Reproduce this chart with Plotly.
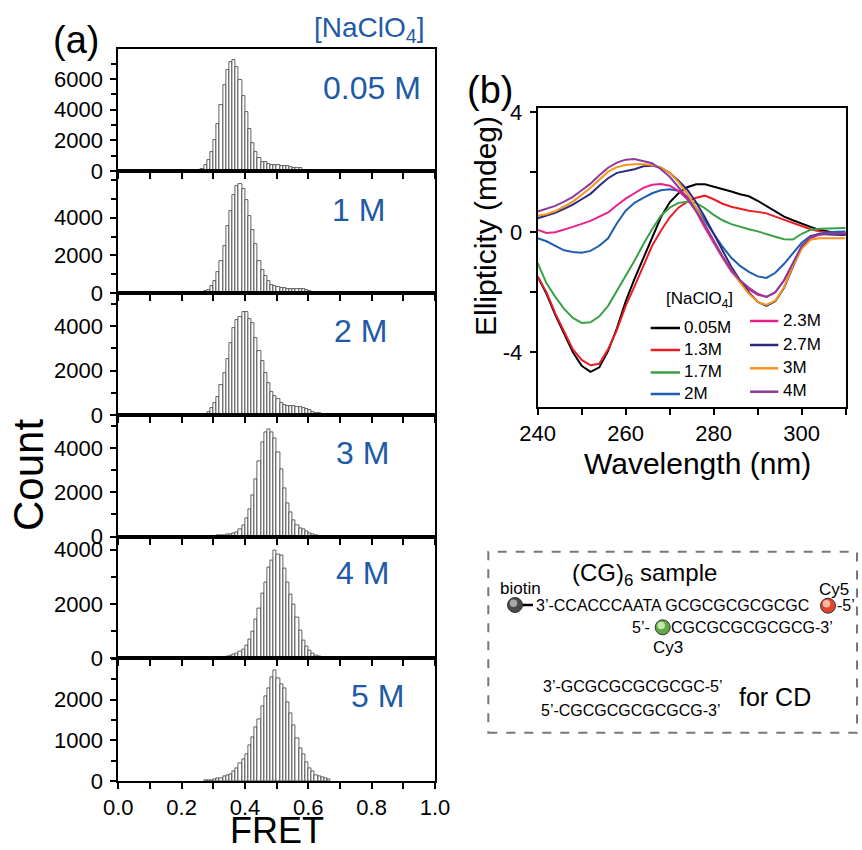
import plotly.graph_objects as go

W, H = 862, 850
FONT = "Liberation Sans, Arial, sans-serif"
BLUE = "#1f5aa6"

# ---------------- data: FRET histograms (bin width 0.01) ----------------
bin_width = 0.01
fret_first_bin = [0.26, 0.27, 0.27, 0.30, 0.32, 0.27]
fret_counts = [
    [130, 400, 720, 1220, 2020, 3070, 4300, 5610, 6590, 7130, 7220, 6800, 5930, 4910, 3830, 2720,
     1850, 1260, 830, 610, 570, 460, 390, 370, 370, 330, 300, 300, 260, 220, 200, 170, 90],
    [90, 180, 350, 620, 1100, 1680, 2480, 3540, 4340, 5220, 5660, 5790, 5520, 4920, 4070, 3360,
     2600, 1720, 1240, 880, 620, 440, 350, 300, 280, 250, 230, 230, 230, 210, 210, 190, 160, 110, 70, 50],
    [60, 130, 310, 540, 810, 1360, 1880, 2510, 3220, 3930, 4270, 4420, 4610, 4610, 4300, 4120,
     3450, 2880, 2430, 1910, 1460, 1060, 870, 720, 570, 460, 420, 400, 400, 390, 360, 330, 280,
     220, 160, 120, 90, 60],
    [30, 45, 60, 75, 90, 105, 135, 180, 315, 500, 800, 1250, 1880, 2570, 3380, 4260, 4710, 4860,
     4710, 4440, 3800, 3020, 2180, 1520, 1100, 750, 500, 390, 315, 225, 165, 105, 60],
    [25, 40, 60, 100, 150, 185, 260, 330, 490, 700, 980, 1440, 1850, 2390, 2800, 3350, 3620, 3960,
     3840, 3780, 3310, 2790, 2370, 1980, 1510, 1040, 650, 430, 270, 185, 120, 75, 40, 15],
    [10, 15, 25, 40, 57, 74, 107, 148, 172, 230, 311, 434, 541, 656, 869, 1074, 1311, 1516, 1828,
     2074, 2279, 2541, 2730, 2525, 2377, 2279, 1926, 1664, 1361, 1049, 803, 656, 459, 311, 230,
     148, 123, 82, 57, 41],
]
panel_labels = ["0.05 M", "1 M", "2 M", "3 M", "4 M", "5 M"]
count_max = [7950, 6480, 5480, 5470, 4490, 3017]
count_ticks = [[0, 2000, 4000, 6000], [0, 2000, 4000], [0, 2000, 4000], [0, 2000, 4000],
               [0, 2000, 4000], [0, 1000, 2000]]
count_minor = [1000, 1000, 1000, 1000, 1000, 500]
fret_ticks = [0.0, 0.2, 0.4, 0.6, 0.8, 1.0]

# ---------------- data: CD spectra ----------------
wavelength = [240, 242, 244, 246, 248, 250, 252, 254, 256, 258, 260, 262, 264, 266, 268, 270, 272, 274,
              276, 278, 280, 282, 284, 286, 288, 290, 292, 294, 296, 298, 300, 302, 304, 306, 308, 310]
cd_names = ["0.05M", "1.3M", "1.7M", "2M", "2.3M", "2.7M", "3M", "4M"]
cd_colors = ["#000000", "#ec1c24", "#3aa046", "#1d5fae", "#e8208c", "#2b2a7e", "#f7941d", "#8e3b9c"]
cd_black = [-1.48, -2.05, -2.75, -3.4, -4.0, -4.45, -4.65, -4.5, -3.95, -3.2, -2.3, -1.55, -0.85, -0.15,
            0.5, 1.0, 1.3, 1.5, 1.6, 1.6, 1.52, 1.46, 1.36, 1.27, 1.2, 1.05, 0.88, 0.7, 0.52, 0.4, 0.28,
            0.18, 0.08, 0.02, -0.02, -0.05]
cd_red = [-1.48, -2.0, -2.7, -3.3, -3.9, -4.25, -4.43, -4.38, -3.9, -3.25, -2.45, -1.8, -1.1, -0.45,
          0.05, 0.5, 0.82, 1.02, 1.15, 1.22, 1.1, 0.95, 0.85, 0.78, 0.72, 0.68, 0.63, 0.52, 0.42, 0.3,
          0.2, 0.1, 0.03, -0.03, -0.07, -0.09]
cd_green = [-1.03, -1.7, -2.15, -2.55, -2.85, -3.02, -3.0, -2.8, -2.45, -1.95, -1.45, -0.95, -0.4, 0.1,
            0.55, 0.82, 0.98, 1.02, 0.98, 0.8, 0.58, 0.4, 0.27, 0.18, 0.1, 0.03, -0.07, -0.15, -0.23,
            -0.24, -0.05, 0.08, 0.12, 0.13, 0.13, 0.14]
cd_blue = [-0.2, -0.3, -0.45, -0.6, -0.66, -0.68, -0.62, -0.45, -0.2, 0.3, 0.72, 0.98, 1.15, 1.3, 1.4,
           1.43, 1.38, 1.18, 0.82, 0.4, -0.05, -0.48, -0.85, -1.12, -1.32, -1.47, -1.52, -1.35, -1.05,
           -0.7, -0.35, -0.12, -0.05, 0.0, 0.02, 0.03]
cd_pink = [0.08, -0.02, 0.0, 0.08, 0.18, 0.28, 0.38, 0.52, 0.66, 0.9, 1.12, 1.3, 1.48, 1.58, 1.61, 1.55,
           1.38, 1.1, 0.7, 0.15, -0.35, -0.85, -1.3, -1.65, -1.9, -2.08, -2.15, -2.0, -1.6, -1.05,
           -0.5, -0.2, -0.08, -0.05, -0.05, -0.05]
cd_navy = [0.47, 0.55, 0.65, 0.78, 0.92, 1.1, 1.28, 1.55, 1.8, 1.98, 2.05, 2.1, 2.2, 2.22, 2.15, 1.98,
           1.72, 1.42, 1.0, 0.5, -0.05, -0.6, -1.15, -1.6, -2.0, -2.32, -2.45, -2.3, -1.85, -1.15,
           -0.5, -0.15, -0.05, -0.07, -0.08, -0.09]
cd_orange = [0.55, 0.6, 0.7, 0.85, 1.02, 1.25, 1.48, 1.75, 2.02, 2.17, 2.24, 2.27, 2.27, 2.24, 2.15,
             1.98, 1.67, 1.28, 0.82, 0.25, -0.3, -0.8, -1.25, -1.68, -2.05, -2.32, -2.42, -2.28, -1.82,
             -1.12, -0.55, -0.25, -0.2, -0.2, -0.2, -0.2]
cd_purple = [0.69, 0.78, 0.88, 1.02, 1.18, 1.4, 1.62, 1.9, 2.15, 2.32, 2.42, 2.44, 2.38, 2.3, 2.1, 1.85,
             1.5, 1.15, 0.7, 0.25, -0.28, -0.8, -1.25, -1.6, -1.85, -2.05, -2.15, -2.0, -1.6, -1.05,
             -0.45, -0.15, -0.07, -0.05, -0.04, -0.04]
cd_values = [cd_black, cd_red, cd_green, cd_blue, cd_pink, cd_navy, cd_orange, cd_purple]
cd_xticks = [240, 260, 280, 300]
cd_yticks = [-4, 0, 4]
cd_yticktext = ["-4", "0", "4"]


def px(x):
    return x / W


def py(y):
    return 1 - y / H


fig = go.Figure()

# ---------------- panel (a) ----------------
a_left, a_right = 118.3, 435.0
a_edges = [49, 171, 293, 415.3, 536.5, 658.3, 781]

axis_common = dict(showline=True, linecolor="black", linewidth=2, mirror=True,
                   showgrid=False, zeroline=False, ticks="outside", tickcolor="black",
                   tickwidth=1.5, ticklen=6, automargin=False,
                   tickfont=dict(family=FONT, size=22, color="black"))

for i in range(6):
    n = i + 1
    centers = [fret_first_bin[i] + bin_width * (k + 0.5) for k in range(len(fret_counts[i]))]
    fig.add_trace(go.Bar(
        x=centers, y=fret_counts[i], width=bin_width,
        marker=dict(color="white", line=dict(color="#3a3a3a", width=0.8)),
        xaxis=f"x{n}", yaxis=f"y{n}", showlegend=False, hoverinfo="x+y"))
    xa = dict(axis_common, domain=[px(a_left), px(a_right)], range=[0, 1], anchor=f"y{n}",
              tickvals=fret_ticks, showticklabels=(i == 5), tickformat=".1f",
              minor=dict(dtick=0.1, tick0=0, ticks="outside", ticklen=6, tickwidth=1.5, tickcolor="black"))
    ya = dict(axis_common, domain=[py(a_edges[i + 1]), py(a_edges[i])], range=[0, count_max[i]],
              anchor=f"x{n}", tickvals=count_ticks[i], ticklabelstandoff=3,
              minor=dict(dtick=count_minor[i], tick0=0, ticks="outside", ticklen=5, tickwidth=1.5,
                         tickcolor="black"))
    fig.layout[f"xaxis{n}"] = xa
    fig.layout[f"yaxis{n}"] = ya

# ---------------- panel (b) ----------------
for name, col, vals in zip(cd_names, cd_colors, cd_values):
    fig.add_trace(go.Scatter(x=wavelength, y=vals, mode="lines", name=name,
                             line=dict(color=col, width=2), xaxis="x7", yaxis="y7", showlegend=False))

b_left, b_right, b_top, b_bottom = 537.7, 845.7, 107.7, 406.7
fig.layout["xaxis7"] = dict(axis_common, domain=[px(b_left), px(b_right)], range=[240, 310],
                            anchor="y7", tickvals=cd_xticks,
                            minor=dict(dtick=10, tick0=240, ticks="outside", ticklen=6, tickwidth=1.5,
                                       tickcolor="black"))
fig.layout["yaxis7"] = dict(axis_common, domain=[py(b_bottom), py(b_top)], range=[-5.81, 4.15],
                            anchor="x7", tickvals=cd_yticks, ticktext=cd_yticktext, ticklabelstandoff=3,
                            minor=dict(dtick=2, tick0=0, ticks="outside", ticklen=6, tickwidth=1.5,
                                       tickcolor="black"))

annotations = []
shapes = []


def text(x, y, s, size, color="black", xanchor="center", angle=0):
    annotations.append(dict(x=px(x), y=py(y), xref="paper", yref="paper", text=s, showarrow=False,
                            xanchor=xanchor, yanchor="middle", textangle=angle, borderpad=0,
                            font=dict(family=FONT, size=size, color=color)))


# panel (a) texts
text(76, 40, "(a)", 38)
text(369, 29, "[NaClO<sub>4</sub>]", 28, BLUE)
label_pos = [(422, 88), (386, 210), (388, 331), (390, 453), (390, 573), (405, 696)]
for lab, (lx, ly) in zip(panel_labels, label_pos):
    text(lx, ly, lab, 32, BLUE, xanchor="right")
text(28, 475, "Count", 42, angle=-90)
text(277, 830, "FRET", 36)

# panel (b) texts
text(490, 90, "(b)", 38)
text(485, 226, "Ellipticity (mdeg)", 30, angle=-90)
text(697, 463, "Wavelength (nm)", 30)

# manual legend for CD
text(699, 300, "[NaClO<sub>4</sub>]", 17)
leg_rows1 = [328, 350, 372.5, 394]
leg_rows2 = [321, 345, 368.3, 391.7]
for k in range(8):
    if k < 4:
        lx0, lx1, ty, tx = 650.7, 680, leg_rows1[k], 683
    else:
        lx0, lx1, ty, tx = 750, 778.3, leg_rows2[k - 4], 781.7
    shapes.append(dict(type="line", xref="paper", yref="paper", x0=px(lx0), x1=px(lx1),
                       y0=py(ty), y1=py(ty), line=dict(color=cd_colors[k], width=2.5)))
    text(tx, ty - 1, cd_names[k], 17, xanchor="left")

# ---------------- diagram box ----------------
shapes.append(dict(type="rect", xref="paper", yref="paper", x0=px(488.3), x1=px(857), y0=py(732.7),
                   y1=py(551.7), line=dict(color="#777777", width=2, dash="dash")))


def sphere(cx, cy, r, dark, light):
    shapes.append(dict(type="circle", xref="paper", yref="paper", x0=px(cx - r), x1=px(cx + r),
                       y0=py(cy + r), y1=py(cy - r), fillcolor=dark, line=dict(color="#333333", width=1)))
    r2 = r * 0.5
    ox, oy = cx - r * 0.2, cy - r * 0.25
    shapes.append(dict(type="circle", xref="paper", yref="paper", x0=px(ox - r2), x1=px(ox + r2),
                       y0=py(oy + r2), y1=py(oy - r2), fillcolor=light, line=dict(width=0)))


shapes.append(dict(type="line", xref="paper", yref="paper", x0=px(515), x1=px(533), y0=py(605),
                   y1=py(605), line=dict(color="black", width=2.5)))
sphere(515, 605, 7.5, "#4a4a48", "#a8a8a4")
sphere(828, 605.7, 7.5, "#e2452e", "#f8b8a6")
sphere(662.7, 627.3, 7.5, "#5ea845", "#c6e6b0")

text(644, 574, "(CG)<sub>6</sub> sample", 24)
text(520, 588, "biotin", 17)
text(834, 589, "Cy5", 17)
text(535, 605, "3’-CCACCCAATA GCGCGCGCGCGC", 16, xanchor="left")
text(835.5, 605, "-5’", 16, xanchor="left")
text(631, 627.3, "5’-", 16, xanchor="left")
text(670, 627.3, "CGCGCGCGCGCG-3’", 16, xanchor="left")
text(668, 647, "Cy3", 17)
text(541.7, 686.7, "3’-GCGCGCGCGCGC-5’", 16, xanchor="left")
text(540, 710, "5’-CGCGCGCGCGCG-3’", 16, xanchor="left")
text(738, 697, "for CD", 25, xanchor="left")

fig.update_layout(width=W, height=H, autosize=False,
                  margin=dict(l=0, r=0, t=0, b=0, pad=0, autoexpand=False),
                  paper_bgcolor="white", plot_bgcolor="white", bargap=0,
                  font=dict(family=FONT, color="black"),
                  annotations=annotations, shapes=shapes)

fig.write_html("out.html")
